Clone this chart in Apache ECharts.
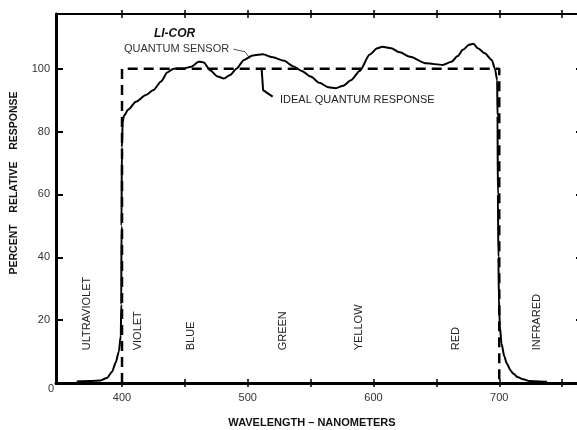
<!DOCTYPE html>
<html>
<head>
<meta charset="utf-8">
<script src="https://cdn.jsdelivr.net/npm/echarts@6/dist/echarts.min.js"></script>
<style>
html,body{margin:0;padding:0;background:#fff;}
#chart{width:577px;height:430px;}
</style>
</head>
<body>
<div id="chart"></div>
<script>
// ---- data ----
const sensorWavelength = [364, 375, 383, 388, 392, 395, 397.5, 399, 399.4, 399.6, 399.9, 400.5, 401.5, 405, 411, 419, 425, 431, 436, 441, 449, 455, 461, 465, 470, 476, 481, 486, 491, 497, 504, 512, 520, 529, 536, 543, 550, 557, 564, 570, 576, 582, 589, 597, 603, 607, 614, 621, 629, 642, 655, 662, 667, 671, 676, 679.5, 683, 688.5, 694, 696.5, 698.3, 698.6, 698.9, 699.3, 699.7, 700.5, 701.8, 704, 706, 709, 711, 715, 719, 724, 732, 738];
const sensorResponse   = [0.5, 0.6, 0.8, 1.6, 3.5, 6.5, 10, 15, 25, 50, 75, 83, 85, 87, 89.5, 91.6, 93.2, 95.9, 98.8, 100, 100.1, 100.6, 102.2, 102, 99.5, 97.5, 96.9, 98, 100, 102.8, 104.2, 104.6, 103.6, 102.5, 100.8, 99.3, 97.5, 95.5, 94.1, 93.8, 94.6, 96.3, 99.3, 104.5, 106.5, 107, 106.5, 105.2, 103.8, 101.7, 101.2, 102.2, 104, 106, 107.6, 107.9, 106.5, 104.9, 102.8, 100.1, 96.4, 85, 60, 40, 27, 18, 12.5, 8.5, 6.2, 4, 3, 1.8, 1.2, 0.6, 0.5, 0.4];
const idealWavelength = [400, 400, 700, 700];
const idealResponse   = [0, 100, 100, 0];
const xTickValues  = [400, 450, 500, 550, 600, 650, 700, 750];
const xLabelValues = [400, 500, 600, 700];
const yTickValues  = [20, 40, 60, 80, 100];
const yLabelValues = [0, 20, 40, 60, 80, 100];
const bandNames   = ['ULTRAVIOLET', 'VIOLET', 'BLUE', 'GREEN', 'YELLOW', 'RED', 'INFRARED'];
const bandCenters = [372.4, 413, 454.6, 527.8, 588.7, 665.6, 730.2];
const bandBase = 10.4;
const sensorLeaderX = [488.5, 497.8, 501.7];
const sensorLeaderY = [106.2, 105.4, 103.3];
const idealLeaderX = [511, 512.2, 519.8];
const idealLeaderY = [100.1, 93.2, 91.1];
const xTitle = 'WAVELENGTH – NANOMETERS';
const yTitle = 'PERCENT    RELATIVE    RESPONSE';

// ---- chart ----
const FONT = '"Liberation Sans", Arial, Helvetica, sans-serif';
const zip = (a, b) => a.map((v, i) => [v, b[i]]);
const chart = echarts.init(document.getElementById('chart'), null, {renderer: 'canvas'});

const X_MIN = 347.5, X_MAX = 765, Y_MIN = 0, Y_MAX = 117.4;
const baseX = {type: 'value', min: X_MIN, max: X_MAX, gridIndex: 0, splitLine: {show: false}};
const baseY = {type: 'value', min: Y_MIN, max: Y_MAX, gridIndex: 0, splitLine: {show: false}};

const option = {
  animation: false,
  backgroundColor: '#fff',
  grid: {left: 56, top: 14, width: 525, height: 369, containLabel: false, outerBoundsMode: 'none'},
  xAxis: [
    Object.assign({}, baseX, {
      position: 'bottom',
      name: xTitle, nameLocation: 'middle', nameGap: 34,
      nameTextStyle: {fontFamily: FONT, fontWeight: 'bold', fontSize: 11, color: '#111', padding: [0, 13, 0, 0]},
      axisLine: {show: true, lineStyle: {color: '#000', width: 3}},
      axisTick: {show: true, inside: false, length: 4, customValues: xTickValues, lineStyle: {color: '#000', width: 1.5}},
      axisLabel: {show: true, customValues: xLabelValues, margin: 9, fontFamily: FONT, fontSize: 11, color: '#333'}
    }),
    Object.assign({}, baseX, {
      position: 'bottom',
      axisLine: {show: false},
      axisTick: {show: true, inside: true, length: 4, customValues: xTickValues, lineStyle: {color: '#000', width: 1.5}},
      axisLabel: {show: false}
    }),
    Object.assign({}, baseX, {
      position: 'top',
      axisLine: {show: true, lineStyle: {color: '#000', width: 2}},
      axisTick: {show: true, inside: false, length: 4, customValues: xTickValues, lineStyle: {color: '#000', width: 1.5}},
      axisLabel: {show: false}
    }),
    Object.assign({}, baseX, {
      position: 'top',
      axisLine: {show: false},
      axisTick: {show: true, inside: true, length: 4, customValues: xTickValues, lineStyle: {color: '#000', width: 1.5}},
      axisLabel: {show: false}
    })
  ],
  yAxis: [
    Object.assign({}, baseY, {
      position: 'left',
      name: yTitle, nameLocation: 'middle', nameGap: 36, nameRotate: 90,
      nameTextStyle: {fontFamily: FONT, fontWeight: 'bold', fontSize: 10.5, color: '#111', padding: [0, 0, 0, 31]},
      axisLine: {show: true, lineStyle: {color: '#000', width: 3}},
      axisTick: {show: true, inside: true, length: 7, customValues: yTickValues, lineStyle: {color: '#000', width: 2}},
      axisLabel: {
        show: true, customValues: yLabelValues, margin: 6, fontFamily: FONT, fontSize: 11, color: '#333',
        formatter: v => (v === 0 ? '{z|0}' : String(v)),
        rich: {z: {fontFamily: FONT, fontSize: 11, color: '#333', padding: [12, -4, 0, 0]}}
      }
    }),
    Object.assign({}, baseY, {
      position: 'right',
      axisLine: {show: true, lineStyle: {color: '#000', width: 3}},
      axisTick: {show: true, inside: true, length: 5, customValues: yTickValues, lineStyle: {color: '#000', width: 2}},
      axisLabel: {show: false}
    })
  ],
  series: [
    {
      name: 'Ideal quantum response', type: 'line', xAxisIndex: 0, yAxisIndex: 0,
      data: zip(idealWavelength, idealResponse), showSymbol: false, symbol: 'none',
      lineStyle: {color: '#000', width: 2.5, type: [10, 6]}, z: 3
    },
    {
      name: 'LI-COR quantum sensor', type: 'line', xAxisIndex: 0, yAxisIndex: 0,
      data: zip(sensorWavelength, sensorResponse), showSymbol: false, symbol: 'none',
      smooth: 0.25, smoothMonotone: 'x',
      lineStyle: {color: '#000', width: 2}, z: 4
    },
    {
      name: 'sensor leader', type: 'line', xAxisIndex: 0, yAxisIndex: 0,
      data: zip(sensorLeaderX, sensorLeaderY), showSymbol: false, symbol: 'none',
      lineStyle: {color: '#555', width: 1}, z: 2, silent: true
    },
    {
      name: 'ideal leader', type: 'line', xAxisIndex: 0, yAxisIndex: 0,
      data: zip(idealLeaderX, idealLeaderY), showSymbol: false, symbol: 'none',
      lineStyle: {color: '#000', width: 2}, z: 2, silent: true
    }
  ]
};
chart.setOption(option);

// annotations positioned through the chart's own scales
const px = (x, y) => chart.convertToPixel({xAxisIndex: 0, yAxisIndex: 0}, [x, y]);
const graphics = [];
bandNames.forEach((name, i) => {
  const p = px(bandCenters[i], bandBase);
  graphics.push({
    type: 'text', x: p[0], y: p[1], rotation: Math.PI / 2,
    style: {text: name, align: 'left', verticalAlign: 'middle', font: '11px ' + FONT, fill: '#222'}
  });
});
const notes = [
  {text: 'LI-COR', x: 425.4, y: 111.2, font: 'italic bold 12px ' + FONT, fill: '#111'},
  {text: 'QUANTUM SENSOR', x: 401.6, y: 106.4, font: '11px ' + FONT, fill: '#333'},
  {text: 'IDEAL QUANTUM RESPONSE', x: 525.6, y: 89.9, font: '11px ' + FONT, fill: '#222'}
];
notes.forEach(n => {
  const p = px(n.x, n.y);
  graphics.push({type: 'text', x: p[0], y: p[1], style: {text: n.text, align: 'left', verticalAlign: 'middle', font: n.font, fill: n.fill}});
});
chart.setOption({graphic: graphics});
</script>
</body>
</html>
